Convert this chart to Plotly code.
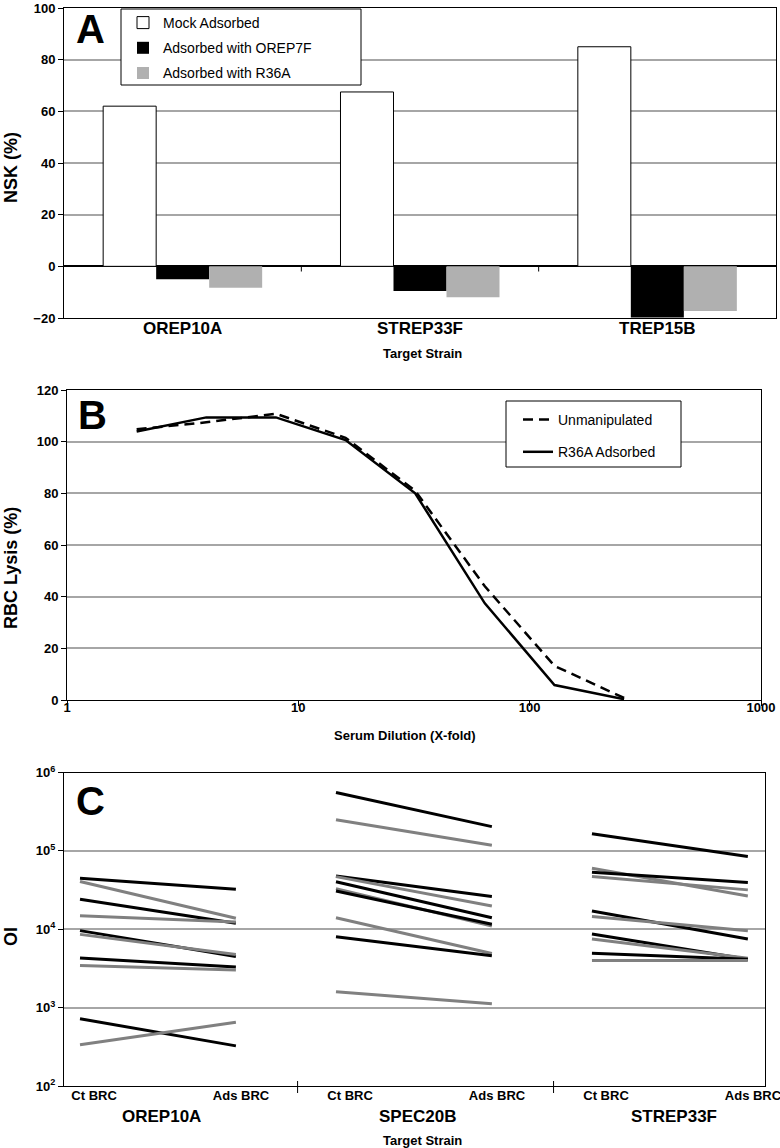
import plotly.graph_objects as go

W, H = 780, 1148

# ---------------- Panel A data ----------------
strains_a = ["OREP10A", "STREP33F", "TREP15B"]
mock_ads = [62, 67.5, 85]
ads_orep7f = [-5, -9.5, -19.8]
ads_r36a = [-8.3, -12, -17.3]
a_ticks = [-20, 0, 20, 40, 60, 80, 100]

# ---------------- Panel B data ----------------
dilution = [2, 4, 8, 16, 32, 64, 128, 256]
unmanipulated = [104.8, 107.5, 110.8, 101.5, 81, 44, 13.2, 0.8]
r36a_adsorbed = [103.9, 109.4, 109.4, 100.6, 80, 37.4, 5.8, 0.3]
b_xticks = [1, 10, 100, 1000]
b_yticks = [0, 20, 40, 60, 80, 100, 120]

# ---------------- Panel C data ----------------
strains_c = ["OREP10A", "SPEC20B", "STREP33F"]
conditions = ["Ct BRC", "Ads BRC"]
black_ct = [[44800, 24200, 9600, 4300, 720],
            [556000, 47900, 40300, 30800, 8000],
            [165000, 53500, 17100, 8700, 4930]]
black_ads = [[32400, 11900, 4500, 3300, 325],
             [204000, 26100, 14000, 11600, 4600],
             [84600, 39400, 7500, 4140, 4140]]
grey_ct = [[40600, 14900, 8600, 3450, 336],
           [249000, 46900, 33000, 14000, 1600],
           [60100, 47000, 14500, 7500, 3980]]
grey_ads = [[13800, 12400, 4750, 3030, 650],
            [118000, 19800, 11000, 4900, 1120],
            [26600, 31800, 9600, 4270, 4000]]
c_ytick_exp = [2, 3, 4, 5, 6]

# ---------------- styling ----------------
FONT = "Liberation Sans, Arial, sans-serif"
GRID = "#a6a6a6"
GREY_BAR = "#b0b0b0"
GREY_LINE = "#808080"
ADS_OFFSET = 0.609      # position of "Ads BRC" within a strain group
CT_LABEL_SHIFT = 0.055
ADS_LABEL_SHIFT = 0.02


def px(x):
    return x / W


def py(y):
    return 1 - y / H


fig = go.Figure()

# Panel A bars
fig.add_trace(go.Bar(x=strains_a, y=mock_ads, name="Mock Adsorbed",
                     marker=dict(color="white", line=dict(color="black", width=1)),
                     xaxis="x", yaxis="y", legend="legend", legendgroup="a1"))
fig.add_trace(go.Bar(x=strains_a, y=ads_orep7f, name="Adsorbed with OREP7F",
                     marker=dict(color="black", line=dict(width=0)),
                     xaxis="x", yaxis="y", legend="legend", legendgroup="a2"))
fig.add_trace(go.Bar(x=strains_a, y=ads_r36a, name="Adsorbed with R36A",
                     marker=dict(color=GREY_BAR, line=dict(width=0)),
                     xaxis="x", yaxis="y", legend="legend", legendgroup="a3"))

# Panel B lines
fig.add_trace(go.Scatter(x=dilution, y=unmanipulated, mode="lines", name="Unmanipulated",
                         line=dict(color="black", width=2.5, dash="10px,6px"),
                         xaxis="x2", yaxis="y2", legend="legend2", legendgroup="b1"))
fig.add_trace(go.Scatter(x=dilution, y=r36a_adsorbed, mode="lines", name="R36A Adsorbed",
                         line=dict(color="black", width=2.5),
                         xaxis="x2", yaxis="y2", legend="legend2", legendgroup="b2"))

# Panel C lines
for g in range(len(strains_c)):
    xs = [g, g + ADS_OFFSET]
    for i in range(len(black_ct[g])):
        fig.add_trace(go.Scatter(x=xs, y=[black_ct[g][i], black_ads[g][i]], mode="lines",
                                 line=dict(color="black", width=3), showlegend=False,
                                 xaxis="x3", yaxis="y3"))
        fig.add_trace(go.Scatter(x=xs, y=[grey_ct[g][i], grey_ads[g][i]], mode="lines",
                                 line=dict(color=GREY_LINE, width=3), showlegend=False,
                                 xaxis="x3", yaxis="y3"))

tickfont = dict(family=FONT, size=13, color="black", weight="bold")
axis_common = dict(showline=True, linecolor="black", linewidth=1, mirror=True,
                   automargin=False, ticklabeloverflow="allow")

c_tickvals, c_ticktext = [], []
for g in range(len(strains_c)):
    c_tickvals += [g + CT_LABEL_SHIFT, g + ADS_OFFSET + ADS_LABEL_SHIFT]
    c_ticktext += conditions

fig.update_layout(
    width=W, height=H,
    margin=dict(l=0, r=0, t=0, b=0, pad=0),
    paper_bgcolor="white", plot_bgcolor="white",
    barmode="group", bargap=0.33, bargroupgap=0,
    font=dict(family=FONT, color="black"),
    xaxis=dict(domain=[px(64), px(776)], anchor="y", type="category", range=[-0.5, 2.5],
               ticks="", showgrid=False, ticklabelstandoff=-5,
               tickfont=dict(family=FONT, size=17, color="black", weight="bold"),
               **axis_common),
    yaxis=dict(domain=[py(318), py(8)], anchor="x", range=[-20, 100], tickvals=a_ticks,
               showgrid=True, gridcolor=GRID, gridwidth=1.5,
               zeroline=True, zerolinecolor="black", zerolinewidth=1.5,
               ticks="outside", ticklen=5, tickcolor="black", tickfont=tickfont,
               **axis_common),
    xaxis2=dict(domain=[px(67), px(761)], anchor="y2", type="log", range=[0, 3],
                tickvals=b_xticks, ticktext=[str(v) for v in b_xticks],
                ticks="outside", ticklen=5, tickcolor="black", showgrid=False,
                ticklabelstandoff=-10, tickfont=tickfont, **axis_common),
    yaxis2=dict(domain=[py(700), py(390)], anchor="x2", range=[0, 120], tickvals=b_yticks,
                showgrid=True, gridcolor=GRID, gridwidth=1.5, zeroline=False,
                ticks="outside", ticklen=5, tickcolor="black", tickfont=tickfont,
                **axis_common),
    xaxis3=dict(domain=[px(64), px(765)], anchor="y3", range=[-0.0625, 2.676],
                tickvals=c_tickvals, ticktext=c_ticktext, ticks="", showgrid=False,
                zeroline=False, ticklabelstandoff=-3, tickfont=tickfont, **axis_common),
    yaxis3=dict(domain=[py(1086), py(772.5)], anchor="x3", type="log", range=[2, 6],
                tickvals=[10 ** e for e in c_ytick_exp],
                ticktext=["10<sup>%d</sup>" % e for e in c_ytick_exp],
                showgrid=True, gridcolor=GRID, gridwidth=1.5,
                ticks="outside", ticklen=5, tickcolor="black", tickfont=tickfont,
                **axis_common),
    legend=dict(x=px(123), y=py(7), xanchor="left", yanchor="top",
                bgcolor="rgba(0,0,0,0)", borderwidth=0, tracegroupgap=4,
                itemwidth=30, traceorder="grouped",
                font=dict(family=FONT, size=14, color="black")),
    legend2=dict(x=px(518), y=py(404), xanchor="left", yanchor="top",
                 bgcolor="rgba(0,0,0,0)", borderwidth=0, tracegroupgap=11,
                 itemwidth=30, traceorder="grouped",
                 font=dict(family=FONT, size=14, color="black")),
)

shapes = []
# legend boxes
shapes.append(dict(type="rect", xref="paper", yref="paper", x0=px(121), x1=px(361),
                   y0=py(85), y1=py(9), line=dict(color="black", width=1),
                   fillcolor="white", layer="above"))
shapes.append(dict(type="rect", xref="paper", yref="paper", x0=px(506), x1=px(681),
                   y0=py(467), y1=py(401), line=dict(color="black", width=1),
                   fillcolor="white", layer="above"))
# category boundary ticks on zero line of panel A
for i in range(len(strains_a) - 1):
    shapes.append(dict(type="line", xref="x", yref="y", x0=i + 0.5, x1=i + 0.5,
                       y0=0, y1=-2, line=dict(color="black", width=1)))
# group separators panel C
for g in range(len(strains_c) - 1):
    shapes.append(dict(type="line", xref="x3", yref="paper", x0=g + 0.85, x1=g + 0.85,
                       y0=py(1093), y1=py(1081), line=dict(color="black", width=1)))
fig.update_layout(shapes=shapes)

ann = []
big = dict(family=FONT, size=40, color="black", weight="bold")
for letter, xc, yc in [("A", 90, 29), ("B", 92, 415), ("C", 90, 801)]:
    ann.append(dict(text=letter, x=px(xc), y=py(yc), xref="paper", yref="paper",
                    showarrow=False, font=big, xanchor="center", yanchor="middle"))
title_font = dict(family=FONT, size=18, color="black", weight="bold")
small_title = dict(family=FONT, size=13, color="black", weight="bold")
for text, yc in [("NSK (%)", 168), ("RBC Lysis (%)", 568), ("OI", 937)]:
    ann.append(dict(text=text, x=px(11), y=py(yc), xref="paper", yref="paper",
                    showarrow=False, font=title_font, textangle=-90,
                    xanchor="center", yanchor="middle"))
for text, xc, yc in [("Target Strain", 422, 353), ("Serum Dilution (X-fold)", 405, 735),
                     ("Target Strain", 422, 1140)]:
    ann.append(dict(text=text, x=px(xc), y=py(yc), xref="paper", yref="paper",
                    showarrow=False, font=small_title, xanchor="center", yanchor="middle"))
for g, name in enumerate(strains_c):
    ann.append(dict(text=name, x=g + 0.32, y=py(1116), xref="x3", yref="paper",
                    showarrow=False, font=dict(family=FONT, size=17, color="black", weight="bold"),
                    xanchor="center", yanchor="middle"))
fig.update_layout(annotations=ann)

fig.write_html("out.html",
               config={"displayModeBar": False},
               post_script="document.body.style.margin='0px';"
                           "document.body.style.overflow='hidden';")
